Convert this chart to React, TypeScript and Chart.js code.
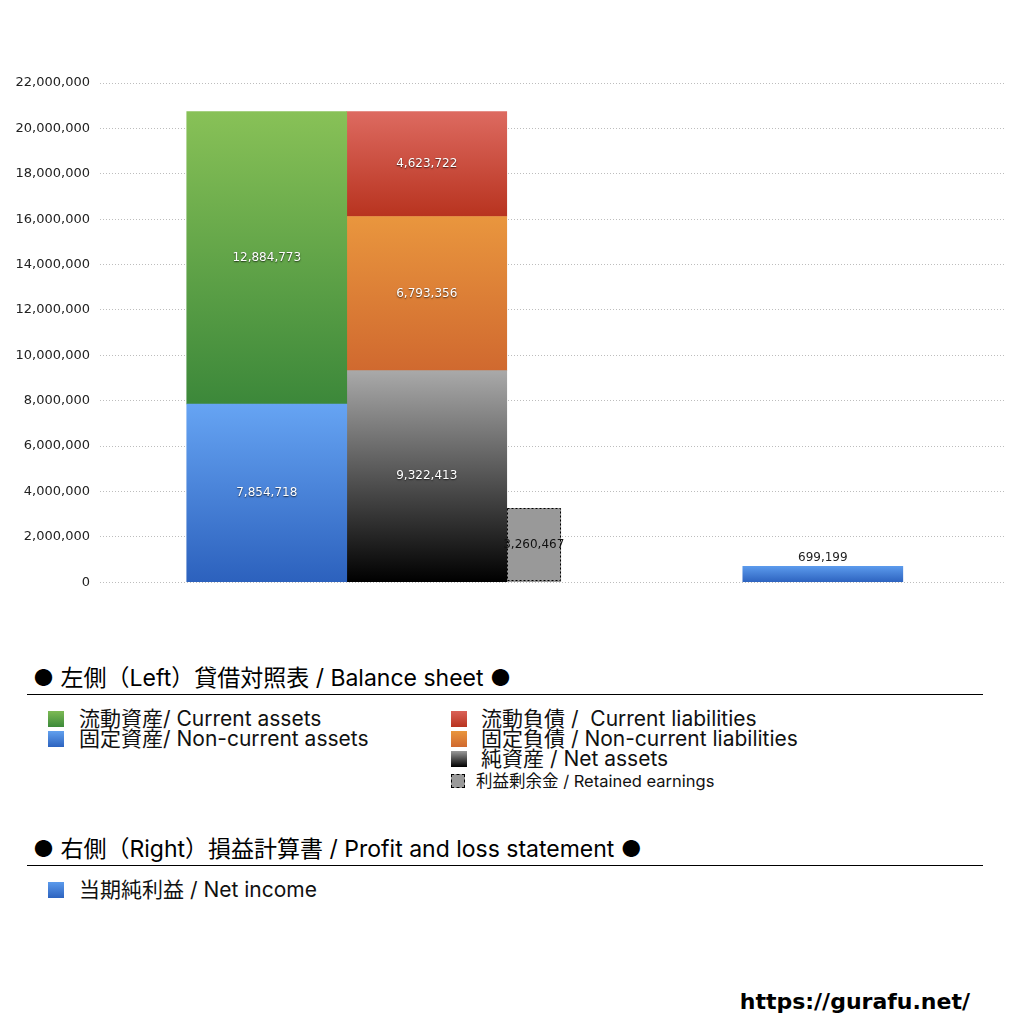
import { useEffect, useRef } from 'react';
import { Chart, registerables } from 'chart.js';

Chart.register(...registerables);

// x position 1 = 左側 (balance sheet), 2 = 右側 (profit and loss)
const groups = [1, 2];
const nonCurrentAssets = [7854718, null];
const currentAssets = [12884773, null];
const netAssets = [9322413, null];
const nonCurrentLiabilities = [6793356, null];
const currentLiabilities = [4623722, null];
const retainedEarnings = [3260467, null];
const netIncome = [null, 699199];

const yMax = 22000000;
const yStep = 2000000;

const numFont = '"DejaVu Sans", sans-serif';
const jpFont = 'Inter, "Noto Sans CJK JP", "Noto Sans", sans-serif';

const stackRange = (chart: any, datasetIndex: number, dataIndex: number) => {
    const datasets = chart.data.datasets;
    const ds = datasets[datasetIndex];
    let start = 0;
    for (let i = 0; i < datasetIndex; i++) {
        if (datasets[i].stack === ds.stack) start += Number(datasets[i].data[dataIndex] ?? 0);
    }
    return [start, start + Number(ds.data[dataIndex] ?? 0)];
};

const gradient = (top: string, bottom: string) => (ctx: any) => {
    const { chart, datasetIndex, dataIndex } = ctx;
    const y = chart.scales?.y;
    if (!y || dataIndex == null || !chart.chartArea) return bottom;
    const [s, e] = stackRange(chart, datasetIndex, dataIndex);
    const y0 = y.getPixelForValue(e);
    const y1 = y.getPixelForValue(s);
    if (!isFinite(y0) || !isFinite(y1) || y0 === y1) return bottom;
    const g = chart.ctx.createLinearGradient(0, y0, 0, y1);
    g.addColorStop(0, top);
    g.addColorStop(1, bottom);
    return g;
};

// value labels + dashed outline of the retained earnings bar
const valueLabels = {
    id: 'valueLabels',
    afterDatasetsDraw(chart: any) {
        const ctx = chart.ctx;
        chart.data.datasets.forEach((ds: any, di: number) => {
            const meta = chart.getDatasetMeta(di);
            meta.data.forEach((el: any, i: number) => {
                const v = ds.data[i];
                if (v == null) return;
                const { x, y, base } = el.getProps(['x', 'y', 'base'], true);
                const w = el.width;
                ctx.save();
                if (ds.dashed) {
                    ctx.strokeStyle = '#000';
                    ctx.lineWidth = 1;
                    ctx.setLineDash([2, 2]);
                    ctx.strokeRect(Math.round(x - w / 2) + 0.5, Math.round(y) + 0.5, Math.round(w) - 1, Math.round(base - y) - 1);
                    ctx.setLineDash([]);
                }
                const text = Number(v).toLocaleString('en-US');
                ctx.font = `12px ${numFont}`;
                ctx.textAlign = 'center';
                if (ds.labelMode === 'top') {
                    ctx.fillStyle = '#222';
                    ctx.textBaseline = 'bottom';
                    ctx.fillText(text, x, y - 2);
                } else if (ds.labelMode === 'dark') {
                    ctx.fillStyle = '#111';
                    ctx.textBaseline = 'middle';
                    ctx.fillText(text, x, (y + base) / 2);
                } else {
                    ctx.fillStyle = '#fff';
                    ctx.textBaseline = 'middle';
                    ctx.shadowColor = 'rgba(0,0,0,0.7)';
                    ctx.shadowBlur = 1.5;
                    ctx.shadowOffsetY = 1;
                    ctx.fillText(text, x, (y + base) / 2);
                }
                ctx.restore();
            });
        });
    },
};

const BalanceChart = () => {
    const chartRef = useRef<HTMLCanvasElement>(null);
    const chartInstance = useRef<Chart | null>(null);

    useEffect(() => {
        if (!chartRef.current) return;
        chartInstance.current?.destroy();
        const ctx = chartRef.current.getContext('2d');
        if (!ctx) return;

        chartInstance.current = new Chart(ctx, {
            type: 'bar',
            data: {
                labels: groups,
                datasets: [
                    { label: '固定資産', data: nonCurrentAssets, stack: 'assets', barThickness: 160, backgroundColor: gradient('#66a4f3', '#2c61bd') },
                    { label: '流動資産', data: currentAssets, stack: 'assets', barThickness: 160, backgroundColor: gradient('#88c157', '#3c883a') },
                    { label: '純資産', data: netAssets, stack: 'claims', barThickness: 160, backgroundColor: gradient('#a9a9a9', '#000000') },
                    { label: '固定負債', data: nonCurrentLiabilities, stack: 'claims', barThickness: 160, backgroundColor: gradient('#e9963e', '#d0692f') },
                    { label: '流動負債', data: currentLiabilities, stack: 'claims', barThickness: 160, backgroundColor: gradient('#dd6a60', '#b8331f') },
                    { label: '利益剰余金', data: retainedEarnings, stack: 'retained', barThickness: 107, maxBarThickness: 54, backgroundColor: '#999999', dashed: true, labelMode: 'dark' },
                    { label: '当期純利益', data: netIncome, stack: 'income', barThickness: 160, backgroundColor: gradient('#5b9aec', '#2d63bf'), labelMode: 'top' },
                ] as any,
            },
            options: {
                responsive: true,
                maintainAspectRatio: false,
                animation: false,
                layout: { padding: { top: 83, right: 19, bottom: 16, left: 0 } },
                datasets: { bar: { skipNull: true, borderWidth: 0 } as any },
                plugins: {
                    legend: { display: false },
                    tooltip: { enabled: false },
                },
                scales: {
                    x: {
                        type: 'linear',
                        min: 0.175,
                        max: 2.46,
                        display: false,
                        offset: false,
                    },
                    y: {
                        stacked: true,
                        min: 0,
                        max: yMax,
                        afterFit: (scale: any) => {
                            scale.width = 100;
                        },
                        ticks: {
                            stepSize: yStep,
                            padding: 10,
                            color: '#222',
                            font: { family: numFont, size: 13 },
                            callback: (v: any) => Number(v).toLocaleString('en-US'),
                        },
                        grid: { color: '#bdbdbd', drawTicks: false },
                        border: { display: false, dash: [1, 2] },
                    },
                },
            },
            plugins: [valueLabels],
        });

        return () => {
            chartInstance.current?.destroy();
        };
    }, []);

    return (
        <div style={{ position: 'absolute', left: 0, top: 0, width: 1024, height: 600 }}>
            <canvas ref={chartRef} />
        </div>
    );
};

const swatch = (top: string, bottom: string, size = 16) => ({
    display: 'inline-block',
    width: size,
    height: size,
    background: `linear-gradient(${top}, ${bottom})`,
});

const Row = ({ left, top, box, text, size = 21, gap = 15 }: any) => (
    <div style={{ position: 'absolute', left, top, height: 20, display: 'flex', alignItems: 'center', fontSize: size, lineHeight: '20px', color: '#111', whiteSpace: 'pre' }}>
        <span style={box} />
        <span style={{ marginLeft: gap }}>{text}</span>
    </div>
);

const Heading = ({ top, text }: any) => (
    <>
        <div style={{ position: 'absolute', left: 33, top: top - 15, fontSize: 23, lineHeight: '28px', color: '#000', whiteSpace: 'pre' }}>{text}</div>
        <div style={{ position: 'absolute', left: 27, top: top + 15, width: 956, height: 1, background: '#000' }} />
    </>
);

export default function App() {
    return (
        <div style={{ position: 'absolute', left: 0, top: 0, width: 1024, height: 1024, background: '#fff', fontFamily: jpFont }}>
            <BalanceChart />
            <Heading top={679} text="● 左側（Left）貸借対照表 / Balance sheet ●" />
            <Row left={48} top={709} box={swatch('#7dba55', '#3c8a3a')} text="流動資産/ Current assets" />
            <Row left={48} top={729} box={swatch('#62a0ee', '#2d63bf')} text="固定資産/ Non-current assets" />
            <Row left={451} top={709} box={swatch('#da6258', '#b8331f')} text="流動負債 /  Current liabilities" gap={14} />
            <Row left={451} top={729} box={swatch('#e9963e', '#d0692f')} text="固定負債 / Non-current liabilities" gap={14} />
            <Row left={451} top={749} box={swatch('#9a9a9a', '#000')} text="純資産 / Net assets" gap={14} />
            <Row
                left={451}
                top={771}
                size={16.5}
                gap={11}
                box={{ display: 'inline-block', width: 12, height: 12, background: '#999', border: '1px dashed #000' }}
                text="利益剰余金 / Retained earnings"
            />
            <Heading top={850} text="● 右側（Right）損益計算書 / Profit and loss statement ●" />
            <Row left={48} top={880} box={swatch('#5b9aec', '#2d63bf')} text="当期純利益 / Net income" />
            <div style={{ position: 'absolute', right: 54, top: 989, fontFamily: numFont, fontWeight: 'bold', fontSize: 22, color: '#000' }}>
                https://gurafu.net/
            </div>
        </div>
    );
}
